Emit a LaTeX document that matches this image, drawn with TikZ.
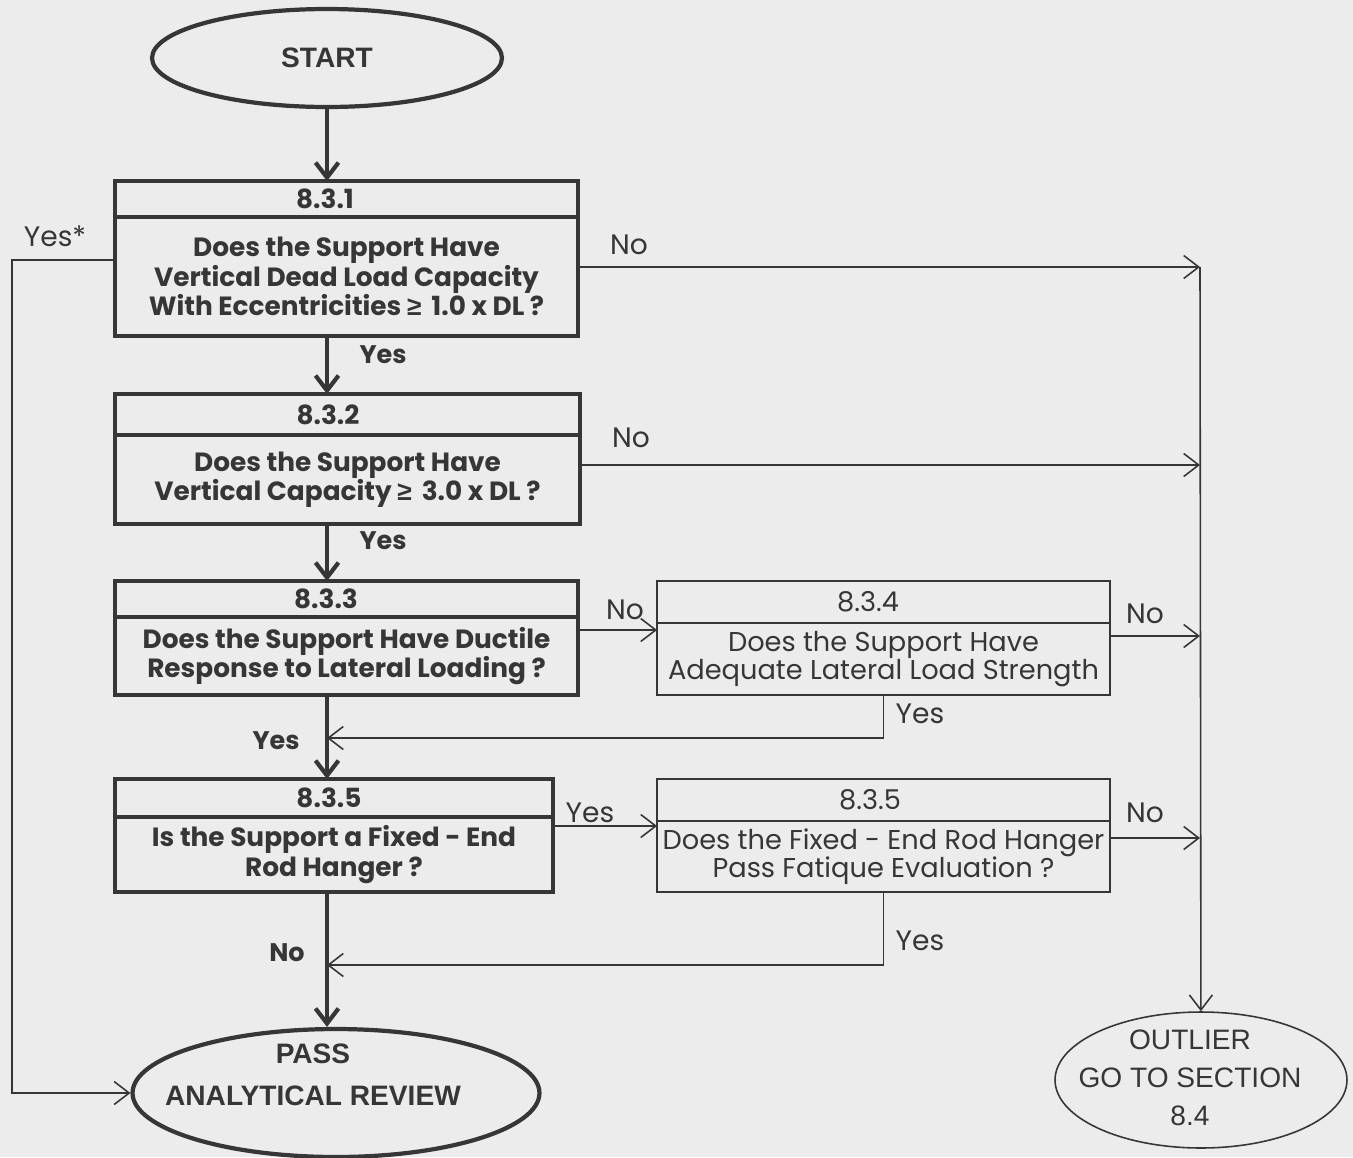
\documentclass[tikz,border=0pt]{standalone}
\usepackage{fontspec}
\setmainfont{Poppins}
\newfontfamily\arial{Liberation Sans}
\usetikzlibrary{positioning,shapes.geometric,arrows.meta}
\definecolor{paper}{HTML}{ECECEC}
\definecolor{ink}{HTML}{363636}
\tikzset{
  heavy/.style={draw=ink,line width=2.4pt,outer sep=0pt,inner sep=1pt,align=center,text=ink,
    font={\bfseries\fontsize{15}{16.6}\selectfont\lineskiplimit=-20pt}},
  light/.style={draw=ink,line width=0.9pt,outer sep=0pt,inner sep=1pt,align=center,text=ink,
    font={\fontsize{15.5}{15.9}\selectfont\lineskiplimit=-20pt}},
  hdtext/.style={text=ink,inner sep=0pt,font=\bfseries\fontsize{15}{15}\selectfont},
  lhdtext/.style={text=ink,inner sep=0pt,font=\fontsize{15.5}{15}\selectfont},
  term/.style={ellipse,draw=ink,inner sep=0pt},
  tag/.style={text=ink,inner sep=1pt,font=\fontsize{16}{16}\selectfont},
  btag/.style={tag,font=\bfseries\fontsize{14.5}{15}\selectfont}
}

\begin{document}
\begin{tikzpicture}[x=0.02cm, y=-0.02cm]
            \tikzstyle{link}=[draw=ink,line width=0.9pt,-{Straight Barb[length=3mm,width=4.6mm]}]
            \tikzstyle{main}=[draw=ink,line width=2.4pt,-{Straight Barb[length=3mm,width=4.6mm]}]
            \fill[paper] (0,0) rectangle (1353,1157);
            \useasboundingbox (0,0) rectangle (1353,1157);

            % end points
            \node[term,line width=2.4pt,minimum width=7cm,minimum height=1.96cm,text=ink,
                  font=\arial\bfseries\fontsize{16}{17}\selectfont] (S) at (327,58) {START};
            \node[term,line width=2.4pt,minimum width=8.14cm,minimum height=2.56cm] (P) at (336,1093) {};
            \node[text=ink,align=center,font=\arial\bfseries\fontsize{16}{24}\selectfont] (P_t) at (313,1075)
                {PASS\\ANALYTICAL REVIEW};
            \node[term,line width=0.9pt,minimum width=5.84cm,minimum height=2.72cm] (O) at (1201,1080) {};
            \node[text=ink,align=center,font=\arial\fontsize{16}{21.5}\selectfont] (O_t) at (1190,1078)
                {OUTLIER\\GO TO SECTION\\8.4};

            % checks
            \node[heavy,minimum width=9.26cm,minimum height=0.72cm,
                  label={[hdtext,xshift=-0.43cm]center:8.3.1}] (B_1h) at (346.5,199) {};
            \node[heavy,minimum width=9.26cm,minimum height=2.38cm,below=0pt of B_1h] (B_1)
                {Does the Support Have\\Vertical Dead Load Capacity\\With Eccentricities {\arial ≥} \,1.0 x DL ?};
            \node[heavy,minimum width=9.3cm,minimum height=0.82cm,
                  label={[hdtext,xshift=-0.39cm]center:8.3.2}] (B_2h) at (347.5,414.5) {};
            \node[heavy,minimum width=9.3cm,minimum height=1.78cm,below=0pt of B_2h] (B_2)
                {Does the Support Have\\Vertical Capacity {\arial ≥} \,3.0 x DL ?};
            \node[heavy,minimum width=9.26cm,minimum height=0.72cm,
                  label={[hdtext,xshift=-0.41cm]center:8.3.3}] (B_3h) at (346.5,599) {};
            \node[heavy,minimum width=9.26cm,minimum height=1.56cm,below=0pt of B_3h] (B_3)
                {Does the Support Have Ductile\\Response to Lateral Loading ?};
            \node[light,minimum width=9.06cm,minimum height=0.84cm,
                  label={[lhdtext,xshift=-0.31cm]center:8.3.4}] (B_4h) at (883.5,602) {};
            \node[light,minimum width=9.06cm,minimum height=1.44cm,below=0pt of B_4h] (B_4)
                {Does the Support Have\\Adequate Lateral Load Strength};
            \node[heavy,minimum width=8.76cm,minimum height=0.76cm,
                  label={[hdtext,xshift=-0.1cm]center:8.3.5}] (B_5h) at (334,798) {};
            \node[heavy,minimum width=8.76cm,minimum height=1.5cm,below=0pt of B_5h] (B_5)
                {Is the Support a Fixed - End\\Rod Hanger ?};
            \node[light,minimum width=9.06cm,minimum height=0.84cm,
                  label={[lhdtext,xshift=-0.27cm]center:8.3.5}] (B_6h) at (883.5,800) {};
            \node[light,minimum width=9.06cm,minimum height=1.42cm,below=0pt of B_6h] (B_6)
                {Does the Fixed - End Rod Hanger\\Pass Fatique Evaluation ?};

            % corner points
            \coordinate (L) at (12,260);
            \coordinate (R) at (1200,267);
            \coordinate (M_1) at (327,738);
            \coordinate (M_2) at (327,965);

            % main line
            \draw[main] (S) -- (S |- B_1h.north);
            \draw[main] (S |- B_1.south) -- (S |- B_2h.north);
            \draw[main] (S |- B_2.south) -- (S |- B_3h.north);
            \draw[main] (S |- B_3.south) -- (S |- B_5h.north);
            \draw[main] (S |- B_5.south) -- (S |- P.north);

            % side lines
            \draw[link] (B_1.west |- L) -- (L) |- (P);
            \draw[link] (B_1.east |- R) -- (R);
            \draw[link] (R) -- (O);
            \draw[link] (B_2.east |- 0,465) -- (R |- 0,465);
            \draw[link] (B_3.east |- 0,630) -- (B_4.west |- 0,630);
            \draw[link] (B_4.east |- 0,636) -- (R |- 0,636);
            \draw[link] (B_4.south) |- (M_1);
            \draw[link] (B_5.east |- 0,826) -- (B_6.west |- 0,826);
            \draw[link] (B_6.east |- 0,838) -- (R |- 0,838);
            \draw[link] (B_6.south) |- (M_2);

            % answers
            \node[tag] (T_1) at (55,236) {Yes*};
            \node[tag] (T_2) at (629,245) {No};
            \node[btag] (T_3) at (383,355) {Yes};
            \node[tag] (T_4) at (631,438) {No};
            \node[btag] (T_5) at (383,541) {Yes};
            \node[tag] (T_6) at (625,610) {No};
            \node[tag] (T_7) at (1145,614) {No};
            \node[tag] (T_8) at (920,714) {Yes};
            \node[btag] (T_9) at (276,741) {Yes};
            \node[tag] (T_10) at (590,813) {Yes};
            \node[tag] (T_11) at (1145,813) {No};
            \node[tag] (T_12) at (920,941) {Yes};
            \node[btag] (T_13) at (287,953) {No};
        \end{tikzpicture}
\end{document}
